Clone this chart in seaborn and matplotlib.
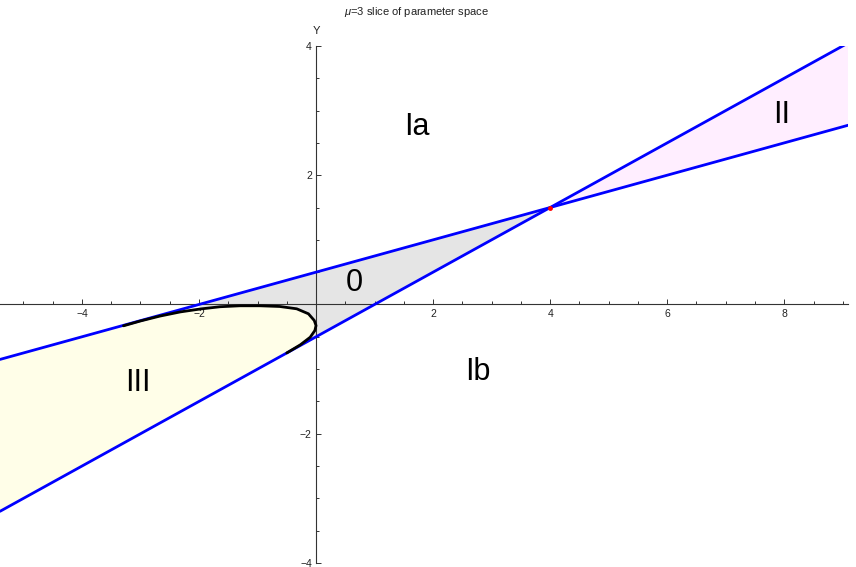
import numpy as np
import matplotlib
matplotlib.use("Agg")
import matplotlib.pyplot as plt
from matplotlib.ticker import MultipleLocator, FixedLocator
import seaborn as sns

# boundary lines (x, y)
line1_x = [-5.4, -2.0, 4.0, 9.1]
line1_y = [-0.85, 0.0, 1.5, 2.775]
line2_x = [-5.4, -0.5, 4.0, 9.1]
line2_y = [-3.2, -0.75, 1.5, 4.05]

# black curve, from tangent point on line1 to tangent point on line2
curve_x = [-3.29, -3.0, -2.67, -2.32, -1.98, -1.64, -1.30, -0.96, -0.62,
           -0.33, -0.13, -0.03, 0.0, -0.02, -0.10, -0.27, -0.50]
curve_y = [-0.33, -0.255, -0.18, -0.115, -0.07, -0.035, -0.02, -0.02, -0.031,
           -0.067, -0.144, -0.248, -0.326, -0.403, -0.507, -0.625, -0.75]

cusp = (4.0, 1.5)

region_labels = ["Ia", "Ib", "0", "II", "III"]
label_x = [1.73, 2.77, 0.65, 7.95, -3.04]
label_y = [2.74, -1.05, 0.33, 2.93, -1.21]

x_major = [-4, -2, 2, 4, 6, 8]
y_major = [-4, -2, 2, 4]

sns.set_style("white")
plt.rcParams['font.family'] = ['Liberation Sans', 'DejaVu Sans']
plt.rcParams['mathtext.fontset'] = 'custom'
plt.rcParams['mathtext.it'] = 'Liberation Sans:italic'

fig = plt.figure(figsize=(8.56, 5.67), dpi=100)
ax = fig.add_axes([0.0, 0.007, 0.9907, 0.912])
ax.set_xlim(-5.4, 9.09)
ax.set_ylim(-4, 4)

l1x, l1y = np.array(line1_x), np.array(line1_y)
l2x, l2y = np.array(line2_x), np.array(line2_y)
cx, cy = np.array(curve_x), np.array(curve_y)

# region 0 (gray)
gx = np.concatenate([l1x[1:3], l2x[2:0:-1], cx[:3:-1]])
gy = np.concatenate([l1y[1:3], l2y[2:0:-1], cy[:3:-1]])
ax.fill(gx, gy, color='#e5e5e5', lw=0, zorder=0)

# region III (yellow)
yx = np.concatenate([[l1x[0]], l2x[:2], cx[::-1]])
yy = np.concatenate([[l1y[0]], l2y[:2], cy[::-1]])
ax.fill(yx, yy, color='#fffee8', lw=0, zorder=0)

# region II (pink)
px = np.concatenate([l1x[2:], l2x[:1:-1]])
py = np.concatenate([l1y[2:], l2y[:1:-1]])
ax.fill(px, py, color='#ffeeff', lw=0, zorder=0)

sns.lineplot(x=line1_x, y=line1_y, ax=ax, color='#0000ff', lw=2.0,
             sort=False, estimator=None, zorder=3)
sns.lineplot(x=line2_x, y=line2_y, ax=ax, color='#0000ff', lw=2.0,
             sort=False, estimator=None, zorder=3)
sns.lineplot(x=curve_x, y=curve_y, ax=ax, color='black', lw=2.0,
             sort=False, estimator=None, zorder=4)
ax.plot([cusp[0]], [cusp[1]], 'o', color='red', ms=3.5, mec='none', zorder=5)

for t, x, y in zip(region_labels, label_x, label_y):
    ax.text(x, y, t, fontsize=22, ha='center', va='center', color='black',
            zorder=6)

# Mathematica-style axes through the origin
for side in ['top', 'right']:
    ax.spines[side].set_visible(False)
for side in ['left', 'bottom']:
    ax.spines[side].set_position('zero')
    ax.spines[side].set_color('#333333')
    ax.spines[side].set_linewidth(0.8)
    ax.spines[side].set_zorder(2)

ax.xaxis.set_major_locator(FixedLocator(x_major))
ax.yaxis.set_major_locator(FixedLocator(y_major))
ax.xaxis.set_minor_locator(MultipleLocator(0.5))
ax.yaxis.set_minor_locator(MultipleLocator(0.5))
ax.set_xticklabels([f"\u2212{-v}" if v < 0 else str(v) for v in x_major])
ax.set_yticklabels([f"\u2212{-v}" if v < 0 else str(v) for v in y_major])
ax.tick_params(which='both', direction='in', color='#333333', width=0.7,
               labelsize=7.5, labelcolor='#222222', pad=3)
ax.tick_params(which='major', length=3.8)
ax.tick_params(which='minor', length=2.2)
ax.tick_params(axis='y', which='both', left=True, right=False)
ax.tick_params(axis='x', which='both', bottom=True, top=False)

fig.text(316 / 856, 1 - 31 / 567, 'Y', fontsize=8, ha='center', va='center',
         color='#222222')
fig.text(416 / 856, 1 - 12 / 567, r'$\mu$=3 slice of parameter space',
         fontsize=8, ha='center', va='center', color='#222222')

fig.savefig('out.png', dpi=100)
